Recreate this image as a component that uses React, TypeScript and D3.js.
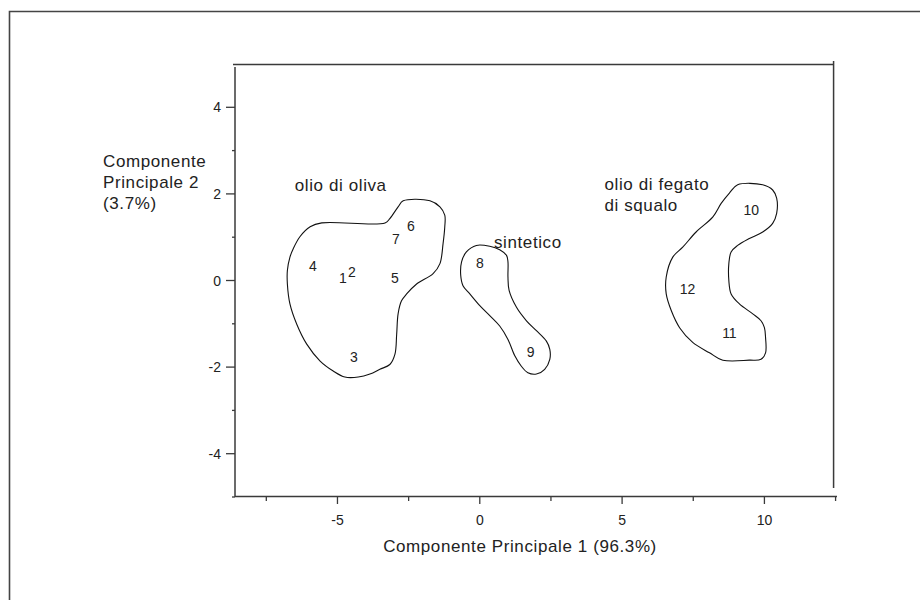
import React from 'react';
import * as d3 from 'd3';

// sample scores on the first two principal components
const sampleIds = ['1', '2', '3', '4', '5', '6', '7', '8', '9', '10', '11', '12'];
const pc1 = [-4.81, -4.49, -4.42, -5.86, -2.98, -2.42, -2.95, 0.0, 1.79, 9.54, 8.77, 7.3];
const pc2 = [0.07, 0.19, -1.77, 0.33, 0.05, 1.26, 0.95, 0.4, -1.65, 1.63, -1.21, -0.19];

// hand drawn group outlines, in PC units
const oliveOutline = [
  [-5.55, 1.33], [-3.33, 1.33], [-3.16, 1.43], [-2.87, 1.7], [-2.69, 1.84], [-1.75, 1.84],
  [-1.4, 1.7], [-1.23, 1.51], [-1.23, 1.24], [-1.29, 0.85], [-1.4, 0.39], [-1.64, 0.16],
  [-2.22, -0.08], [-2.57, -0.31], [-2.75, -0.47], [-2.87, -0.77], [-2.92, -1.24], [-2.98, -1.7],
  [-3.16, -1.94], [-3.51, -2.05], [-3.86, -2.16], [-4.27, -2.23], [-4.74, -2.23], [-5.15, -2.09],
  [-5.61, -1.86], [-6.08, -1.47], [-6.43, -1.01], [-6.67, -0.54], [-6.76, -0.08], [-6.76, 0.23],
  [-6.67, 0.54], [-6.55, 0.74], [-6.32, 1.01], [-5.96, 1.24],
];
const syntheticOutline = [
  [-0.12, 0.81], [0.35, 0.79], [0.7, 0.71], [0.94, 0.58], [0.99, 0.43], [0.99, 0.08],
  [1.03, -0.23], [1.29, -0.62], [1.64, -0.93], [1.99, -1.16], [2.34, -1.4], [2.46, -1.59],
  [2.46, -1.82], [2.28, -2.05], [1.99, -2.16], [1.69, -2.13], [1.46, -1.98], [1.23, -1.74],
  [0.99, -1.36], [0.7, -1.05], [0.35, -0.81], [0.0, -0.58], [-0.35, -0.31], [-0.59, -0.12],
  [-0.67, 0.12], [-0.64, 0.43], [-0.47, 0.66],
];
const sharkOutline = [
  [9.06, 2.21], [9.94, 2.21], [10.29, 2.09], [10.43, 1.9], [10.43, 1.55], [10.29, 1.32],
  [9.94, 1.12], [9.47, 0.97], [9.06, 0.81], [8.83, 0.66], [8.75, 0.39], [8.75, 0.0],
  [8.83, -0.31], [9.12, -0.54], [9.59, -0.77], [9.88, -0.93], [10.0, -1.09], [10.04, -1.32],
  [10.04, -1.67], [9.88, -1.82], [9.47, -1.84], [8.54, -1.84], [8.07, -1.67], [7.48, -1.43],
  [7.02, -1.09], [6.73, -0.7], [6.55, -0.31], [6.55, 0.08], [6.78, 0.54], [7.13, 0.77],
  [7.6, 1.12], [8.19, 1.47], [8.48, 1.78], [8.77, 2.02],
];

const groupNames = ['olio di oliva', 'sintetico', 'olio di fegato', 'di squalo'];
const groupNameX = [-6.5, 0.5, 4.38, 4.38];
const groupNameY = [2.06, 0.74, 2.08, 1.6];

const xMajor = [-5, 0, 5, 10];
const xMinor = [-7.5, -2.5, 2.5, 7.5, 12.5];
const yMajor = [-4, -2, 0, 2, 4];
const yMinor = [-5, -3, -1, 1, 3];

const xTitle = 'Componente Principale 1 (96.3%)';
const yTitle = ['Componente', 'Principale 2', '(3.7%)'];

const font = '"Liberation Sans", Arial, sans-serif';

export default function App() {
  const x = d3.scaleLinear().domain([-8.6, 12.55]).range([235, 837]);
  const y = d3.scaleLinear().domain([-5, 5]).range([497, 64]);

  const outline = d3
    .line<number[]>()
    .x(d => x(d[0]))
    .y(d => y(d[1]))
    .curve(d3.curveCatmullRomClosed.alpha(0.5));

  const axisColor = '#3a3a3a';

  return (
    <svg
      width={920}
      height={600}
      style={{ position: 'absolute', left: 0, top: 0, background: '#fff' }}
    >
      <rect x={0} y={0} width={920} height={600} fill="#fff" />
      {/* page frame */}
      <path d="M9.5,600 V11.5 H920" fill="none" stroke="#444" strokeWidth={1.6} />

      {/* frame around plot */}
      <line x1={233} x2={x(12.43)} y1={y(5) + 0.5} y2={y(5) + 0.5} stroke={axisColor} strokeWidth={1.5} />
      <line x1={x(12.43)} x2={x(12.43)} y1={61} y2={488} stroke={axisColor} strokeWidth={1.5} />

      {/* y axis */}
      <line x1={235} x2={235} y1={y(5) + 3} y2={497} stroke={axisColor} strokeWidth={1.5} />
      {yMajor.map(v => (
        <g key={'ym' + v}>
          <line x1={226} x2={235} y1={y(v)} y2={y(v)} stroke={axisColor} strokeWidth={1.3} />
          <text x={221} y={y(v)} dy="0.36em" textAnchor="end" fontFamily={font} fontSize={14} fill="#222">
            {v}
          </text>
        </g>
      ))}
      {yMinor.map(v => (
        <line key={'yn' + v} x1={232} x2={235} y1={y(v)} y2={y(v)} stroke={axisColor} strokeWidth={1.3} />
      ))}

      {/* x axis */}
      <line x1={235} x2={837} y1={496.5} y2={496.5} stroke={axisColor} strokeWidth={1.5} />
      {xMajor.map(v => (
        <g key={'xm' + v}>
          <line x1={x(v)} x2={x(v)} y1={496} y2={504} stroke={axisColor} strokeWidth={1.3} />
          <text x={x(v)} y={525} textAnchor="middle" fontFamily={font} fontSize={14} fill="#222">
            {v}
          </text>
        </g>
      ))}
      {xMinor.map(v => (
        <line key={'xn' + v} x1={x(v)} x2={x(v)} y1={496} y2={501} stroke={axisColor} strokeWidth={1.3} />
      ))}

      {/* titles */}
      <text x={520} y={552} textAnchor="middle" fontFamily={font} fontSize={17} letterSpacing={0.6} fill="#222">
        {xTitle}
      </text>
      {yTitle.map((t, i) => (
        <text key={t} x={103} y={166.5 + i * 21} fontFamily={font} fontSize={17} letterSpacing={0.6} fill="#222">
          {t}
        </text>
      ))}

      {/* outlines */}
      {[oliveOutline, syntheticOutline, sharkOutline].map((o, i) => (
        <path key={'o' + i} d={outline(o) || ''} fill="none" stroke="#111" strokeWidth={1.1} />
      ))}

      {/* group names */}
      {groupNames.map((g, i) => (
        <text
          key={g}
          x={x(groupNameX[i])}
          y={y(groupNameY[i])}
          fontFamily={font}
          fontSize={17}
          letterSpacing={0.6}
          fill="#222"
        >
          {g}
        </text>
      ))}

      {/* sample labels */}
      {sampleIds.map((s, i) => (
        <text
          key={s}
          x={x(pc1[i])}
          y={y(pc2[i])}
          dy="0.36em"
          textAnchor="middle"
          fontFamily={font}
          fontSize={14}
          fill="#222"
        >
          {s}
        </text>
      ))}
    </svg>
  );
}
